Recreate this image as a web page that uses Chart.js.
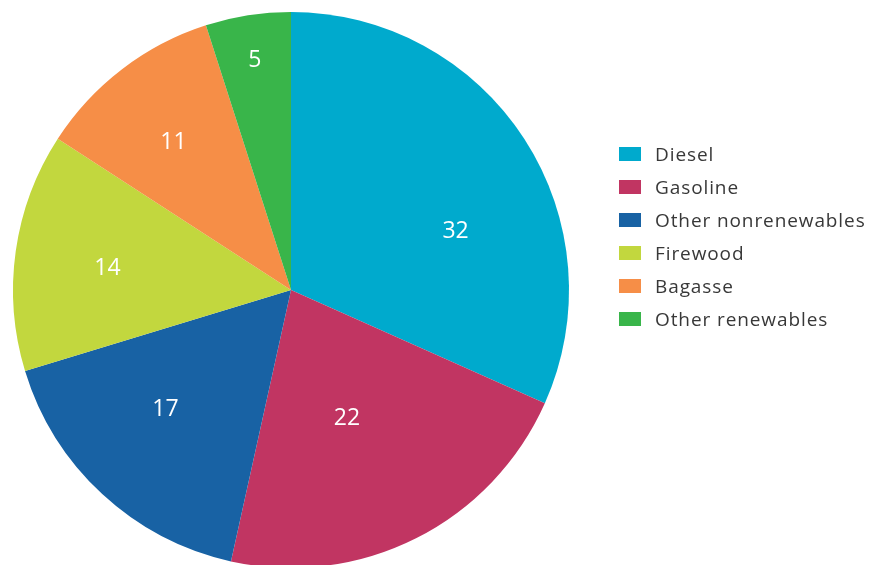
<!DOCTYPE html>
<html>
<head>
<meta charset="utf-8">
<script src="https://cdn.jsdelivr.net/npm/chart.js@4"></script>
<style>
  html, body { margin: 0; padding: 0; background: #fff; overflow: hidden; }
  #wrap { position: relative; width: 870px; height: 565px; }
  #legend { position: absolute; left: 619px; top: 137px; font-family: "Open Sans", sans-serif; font-size: 19px; letter-spacing: 0.9px; color: #383838; }
  .item { height: 33px; display: flex; align-items: center; }
  .box { width: 22px; height: 14px; margin-right: 14px; }
</style>
</head>
<body>
<div id="wrap">
  <canvas id="pie" width="870" height="580"></canvas>
  <div id="legend"></div>
</div>
<script>
// shares by fuel
const fuels = ['Diesel', 'Gasoline', 'Other nonrenewables', 'Firewood', 'Bagasse', 'Other renewables'];
const shares = [32, 22, 17, 14, 11, 5];
const colors = ['#00aacd', '#c13562', '#1862a4', '#c2d73e', '#f68e47', '#39b54a'];

// where the number sits inside each slice: fraction of radius, angle nudge (deg)
const labelRadius = [0.63, 0.5, 0.62, 0.665, 0.68, 0.84];
const labelNudge = [13, 3, 4, -1, -1, 0];

const sliceLabels = {
  id: 'sliceLabels',
  afterDatasetsDraw(chart) {
    const ctx = chart.ctx;
    const meta = chart.getDatasetMeta(0);
    ctx.save();
    ctx.fillStyle = '#fff';
    ctx.font = '400 23px "Open Sans", sans-serif';
    ctx.textAlign = 'center';
    ctx.textBaseline = 'middle';
    meta.data.forEach((arc, i) => {
      const mid = (arc.startAngle + arc.endAngle) / 2 + labelNudge[i] * Math.PI / 180;
      const r = arc.outerRadius * labelRadius[i];
      ctx.fillText(shares[i], arc.x + Math.cos(mid) * r, arc.y + Math.sin(mid) * r + 1);
    });
    ctx.restore();
  }
};

const chart = new Chart(document.getElementById('pie'), {
  type: 'pie',
  data: {
    labels: fuels,
    datasets: [{
      data: shares,
      backgroundColor: colors,
      borderWidth: 0
    }]
  },
  options: {
    responsive: false,
    animation: false,
    layout: { padding: { left: 13, top: 12, bottom: 12, right: 301 } },
    plugins: {
      legend: { display: false },
      tooltip: { enabled: false }
    }
  },
  plugins: [sliceLabels]
});

// legend
const legend = document.getElementById('legend');
fuels.forEach((name, i) => {
  const row = document.createElement('div');
  row.className = 'item';
  const box = document.createElement('span');
  box.className = 'box';
  box.style.background = colors[i];
  const txt = document.createElement('span');
  txt.textContent = name;
  row.appendChild(box);
  row.appendChild(txt);
  legend.appendChild(row);
});
</script>
</body>
</html>
